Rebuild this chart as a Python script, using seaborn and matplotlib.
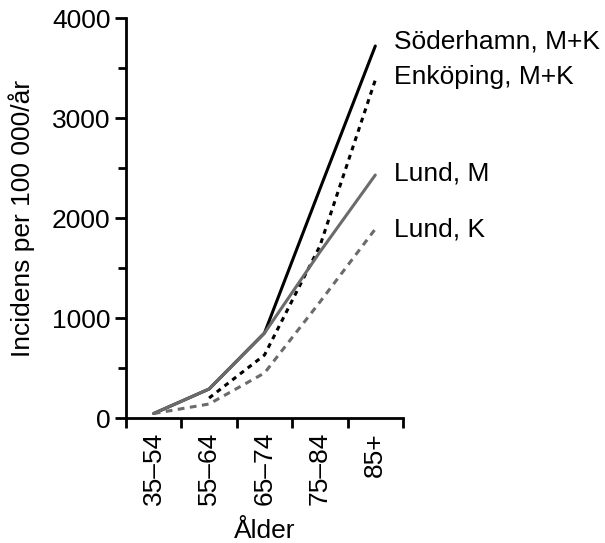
import matplotlib
matplotlib.use("Agg")
import matplotlib.pyplot as plt
import seaborn as sns
import pandas as pd

# Data
age_groups = ["35\u201354", "55\u201364", "65\u201374", "75\u201384", "85+"]
soderhamn = [45, 290, 850, 2290, 3720]
enkoping = [None, 200, 630, 1720, 3380]
lund_m = [45, 290, 850, 1660, 2430]
lund_k = [45, 140, 450, 1160, 1890]
series_names = ["S\u00f6derhamn, M+K", "Enk\u00f6ping, M+K", "Lund, M", "Lund, K"]
label_y = [3770, 3410, 2450, 1890]

sns.set_style("ticks")
plt.rcParams["font.family"] = ["Liberation Sans", "DejaVu Sans"]
plt.rcParams["text.color"] = "black"
plt.rcParams["axes.labelcolor"] = "black"
plt.rcParams["xtick.color"] = "black"
plt.rcParams["ytick.color"] = "black"

FS = 19

fig = plt.figure(figsize=(6.05, 5.43), dpi=100)
ax = fig.add_axes([126/605, 125/543, 277/605, 400/543])

x = list(range(len(age_groups)))
styles = [
    dict(color="black", linestyle="-"),
    dict(color="black", linestyle=(0, (1.6, 1.6))),
    dict(color="#6b6b6b", linestyle="-"),
    dict(color="#6b6b6b", linestyle=(0, (2.2, 1.8))),
]
all_vals = [soderhamn, enkoping, lund_m, lund_k]
for vals, st in zip(all_vals, styles):
    df = pd.DataFrame({"x": x, "y": vals}).dropna()
    sns.lineplot(data=df, x="x", y="y", ax=ax, linewidth=2.2,
                 color=st["color"], linestyle=st["linestyle"])

for name, ly in zip(series_names, label_y):
    ax.text(4.34, ly, name, fontsize=FS, va="center", ha="left", clip_on=False,
            color="black")

ax.set_xlim(-0.5, 4.5)
ax.set_ylim(0, 4000)
ax.set_xticks([i - 0.5 for i in range(6)])
ax.set_xticklabels([])
ax.set_xticks(x, minor=True)
ax.set_xticklabels(age_groups, minor=True, rotation=90, fontsize=FS)
ax.tick_params(axis="x", which="minor", length=0, pad=10)
ax.tick_params(axis="x", which="major", length=7, width=2, direction="out")
ax.set_yticks([0, 1000, 2000, 3000, 4000])
ax.set_yticks([500, 1500, 2500, 3500], minor=True)
ax.tick_params(axis="y", which="both", length=8, width=2, direction="out", labelsize=FS, pad=3)
ax.tick_params(axis="y", which="minor", length=6)

for s in ["top", "right"]:
    ax.spines[s].set_visible(False)
for s in ["left", "bottom"]:
    ax.spines[s].set_linewidth(2)
    ax.spines[s].set_color("black")

ax.set_xlabel("\u00c5lder", fontsize=FS, labelpad=10)
ax.set_ylabel("Incidens per 100 000/\u00e5r", fontsize=FS, labelpad=12)

fig.savefig("out.png", dpi=100)
